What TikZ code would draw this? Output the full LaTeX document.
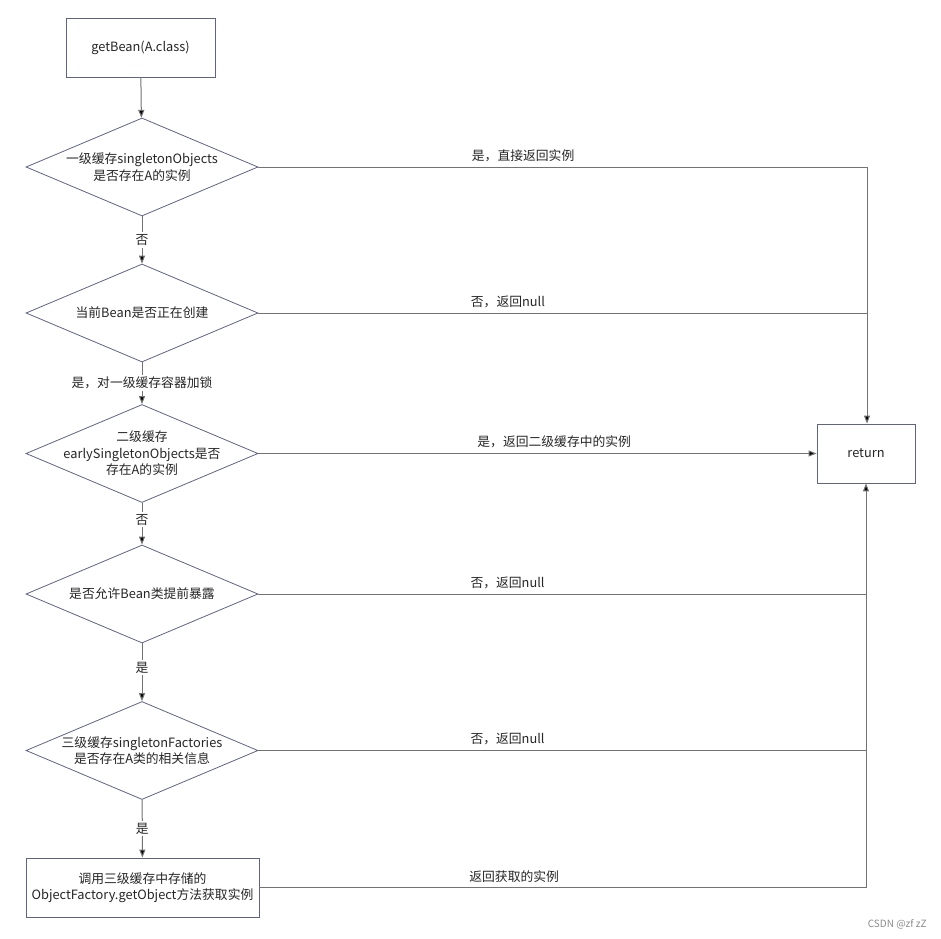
\documentclass[tikz,border=0pt]{standalone}
\usepackage{fontspec}
\setmainfont{Noto Sans CJK SC}
\usetikzlibrary{shapes.geometric,arrows.meta}
\definecolor{shapeline}{RGB}{96,100,132}
\definecolor{conn}{RGB}{115,115,115}
\begin{document}
\begin{tikzpicture}[x=0.75pt,y=-0.75pt,
  every node/.style={font=\fontsize{9.6}{12.4}\selectfont, text=black!85},
  boxnode/.style={draw=shapeline, line width=0.65pt, fill=white, rectangle, inner sep=0pt},
  dianode/.style={draw=shapeline, line width=0.6pt, fill=white, diamond, inner sep=0pt,
     minimum width=174pt, minimum height=73.5pt},
  txt/.style={align=center, inner sep=0pt},
  arr/.style={draw=conn, line width=0.75pt, -{Triangle[length=6pt,width=4.5pt,fill=black]}},
  ln/.style={draw=conn, line width=0.75pt},
  lbl/.style={fill=white, inner sep=1.5pt},
  toplbl/.style={above=3.5pt, inner sep=0pt}
]
\useasboundingbox (0,0) rectangle (941,938);
\fill[white] (0,0) rectangle (941,938);

% nodes
\node[boxnode, minimum width=111.75pt, minimum height=44.25pt] (start) at (140.5,47.5) {getBean(A.class)};
\node[dianode] (d1) at (142,167) {};
\node[txt] at (d1) {一级缓存singletonObjects\\是否存在A的实例};
\node[dianode] (d2) at (142,313) {};
\node[txt] at (d2) {当前Bean是否正在创建};
\node[dianode] (d3) at (142,453.5) {};
\node[txt] at (d3) {二级缓存\\earlySingletonObjects是否\\存在A的实例};
\node[dianode] (d4) at (142,594) {};
\node[txt] at (d4) {是否允许Bean类提前暴露};
\node[dianode] (d5) at (142,750.5) {};
\node[txt] at (d5) {三级缓存singletonFactories\\是否存在A类的相关信息};
\node[boxnode, minimum width=174.75pt, minimum height=44.25pt, align=center] (call) at (142.5,887.5) {调用三级缓存中存储的\\ObjectFactory.getObject方法获取实例};
\node[boxnode, minimum width=73.5pt, minimum height=44.25pt] (ret) at (866,453.5) {return};

\coordinate (c1) at (867,167);
\coordinate (c2) at (867,313);
\coordinate (c4) at (866,594);
\coordinate (c5) at (866,750.5);
\coordinate (c6) at (866,887.5);

% vertical flow
\draw[arr] (start) -- (d1);
\draw[arr] (d1) -- node[lbl, pos=0.5] {否} (d2);
\draw[arr] (d2) -- node[lbl, pos=0.5] {是，对一级缓存容器加锁} (d3);
\draw[arr] (d3) -- node[lbl, pos=0.4] {否} (d4);
\draw[arr] (d4) -- node[lbl, pos=0.42] {是} (d5);
\draw[arr] (d5) -- node[lbl, pos=0.5] {是} (call);

% to return
\draw[ln] (d1.east) -- node[toplbl, pos=0.435] {是，直接返回实例} (c1);
\draw[arr] (c1) -- (c1 |- ret.north);
\draw[ln] (d2.east) -- node[toplbl, pos=0.41] {否，返回null} (c2);
\draw[arr] (d3.east) -- node[toplbl, pos=0.53] {是，返回二级缓存中的实例} (ret.west);
\draw[ln] (d4.east) -- node[toplbl, pos=0.41] {否，返回null} (c4);
\draw[arr] (c4) -- (c4 |- ret.south);
\draw[ln] (d5.east) -- node[toplbl, pos=0.41] {否，返回null} (c5);
\draw[ln] (call.east) -- node[toplbl, pos=0.42] {返回获取的实例} (c6) -- (c4);

% watermark
\node[font=\fontsize{7.5}{9}\selectfont, text=black!45, anchor=east, inner sep=0pt] (wm) at (927,924) {CSDN @zf zZ};
\end{tikzpicture}
\end{document}
